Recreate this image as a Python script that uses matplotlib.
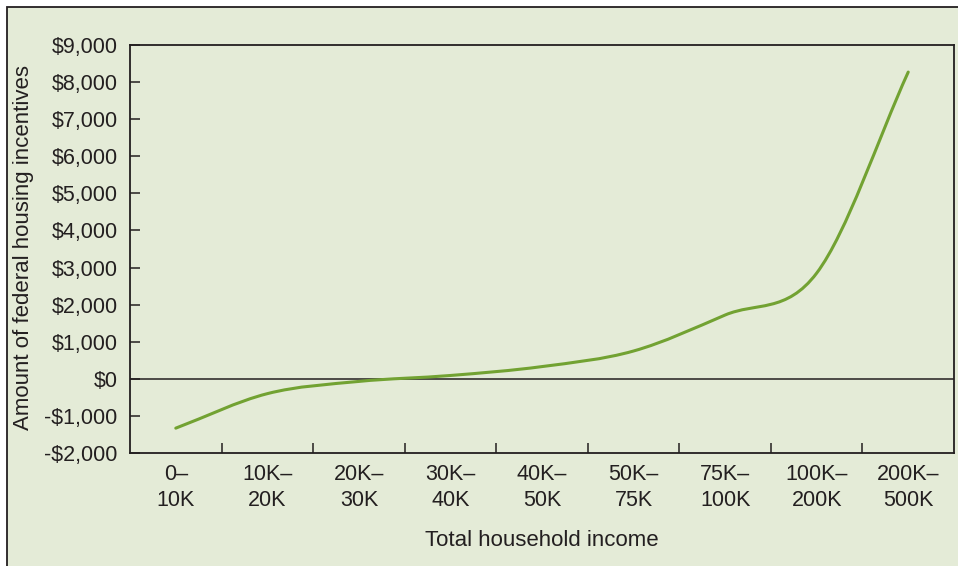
import numpy as np
import matplotlib
matplotlib.use("Agg")
import matplotlib.pyplot as plt
from matplotlib.path import Path
from matplotlib.patches import PathPatch, Rectangle

plt.rcParams['font.family'] = ['Liberation Sans', 'DejaVu Sans']

# datos
categorias = ["0–\n10K", "10K–\n20K", "20K–\n30K", "30K–\n40K", "40K–\n50K",
              "50K–\n75K", "75K–\n100K", "100K–\n200K", "200K–\n500K"]
incentivos = [-1330, -400, -70, 90, 330, 750, 1720, 2850, 8270]
y_ticks = [-2000, -1000, 0, 1000, 2000, 3000, 4000, 5000, 6000, 7000, 8000, 9000]

fondo = "#e4ebd7"
verde = "#72a232"
oscuro = "#231f20"

W, H = 958, 566
fig = plt.figure(figsize=(W / 100, H / 100), dpi=100)
fig.patch.set_facecolor("white")
# marco de la figura (solo izquierda y arriba se ven)
fig.patches.append(Rectangle((7 / W, -0.1), 1.2, 1 - 7 / H + 0.1, transform=fig.transFigure,
                             facecolor=fondo, edgecolor=oscuro, lw=1.3, zorder=-5))

ax = fig.add_axes([130 / W, 1 - 453 / H, 824 / W, 408 / H])
ax.set_zorder(2)
ax.set_facecolor(fondo)

x = np.arange(len(incentivos))
y = np.array(incentivos, dtype=float)

# curva suave (Catmull-Rom -> Bezier cubica)
verts = [(x[0], y[0])]
codes = [Path.MOVETO]
n = len(x)
for i in range(n - 1):
    p0 = y[i - 1] if i > 0 else y[i]
    p3 = y[i + 2] if i + 2 < n else y[i + 1]
    m0 = (y[i + 1] - p0) / (2 if i > 0 else 1)
    m1 = (p3 - y[i]) / (2 if i + 2 < n else 1)
    verts += [(x[i] + 1 / 3, y[i] + m0 / 3), (x[i + 1] - 1 / 3, y[i + 1] - m1 / 3), (x[i + 1], y[i + 1])]
    codes += [Path.CURVE4] * 3
ax.add_patch(PathPatch(Path(verts, codes), fill=False, edgecolor=verde, lw=2.2,
                       capstyle='round', zorder=3))

ax.axhline(0, color=oscuro, lw=1.1, zorder=2)

ax.set_xlim(-0.5, n - 0.5)
ax.set_ylim(-2000, 9000)
ax.set_yticks(y_ticks)
ax.set_yticklabels([("-$" if v < 0 else "$") + f"{abs(v):,}" for v in y_ticks])
ax.set_xticks(x)
ax.set_xticklabels(categorias, linespacing=1.3)
ax.set_xticks(np.arange(0.5, n - 1, 1), minor=True)

ax.tick_params(axis='y', direction='in', length=7, width=1.1, color=oscuro,
               labelsize=15.5, labelcolor=oscuro, pad=9)
ax.tick_params(axis='x', which='major', length=0, labelsize=15.5, labelcolor=oscuro, pad=8)
ax.tick_params(axis='x', which='minor', direction='in', length=7, width=1.1, color=oscuro)

for s in ax.spines.values():
    s.set_color(oscuro)
    s.set_linewidth(1.3)

fig.text(542 / W, 1 - 540 / H, "Total household income", ha='center', va='center',
         fontsize=16, color=oscuro)
fig.text(24 / W, 1 - 248 / H, "Amount of federal housing incentives", ha='center', va='center',
         rotation=90, fontsize=16, color=oscuro)

fig.savefig("out.png", dpi=100, facecolor=fig.get_facecolor())
